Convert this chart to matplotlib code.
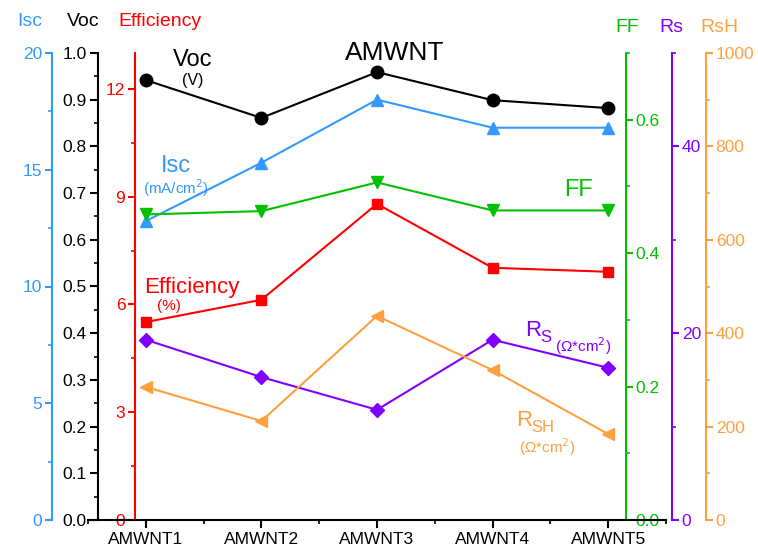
import matplotlib
matplotlib.use("Agg")
import matplotlib.pyplot as plt
from matplotlib.ticker import MultipleLocator

plt.rcParams['font.family'] = ['Liberation Sans', 'DejaVu Sans']

samples = ["AMWNT1", "AMWNT2", "AMWNT3", "AMWNT4", "AMWNT5"]
voc = [0.942, 0.861, 0.959, 0.899, 0.882]
isc = [12.8, 15.3, 18.0, 16.8, 16.8]
eff = [5.51, 6.13, 8.80, 7.02, 6.91]
ff = [0.458, 0.463, 0.506, 0.464, 0.464]
rs = [19.3, 15.3, 11.8, 19.3, 16.3]
rsh = [285, 212, 437, 321, 184]

blue = "#3399ff"
red = "#ff0000"
green = "#00c000"
purple = "#8000ff"
orange = "#ffa040"

W, H = 758, 549
fig = plt.figure(figsize=(W / 100, H / 100), dpi=100)
ax = fig.add_axes([88 / W, 1 - 520 / H, 578 / W, 467 / H])
x = list(range(len(samples)))
TS = 12.5


def px(xp):
    return (xp - 88) / 578.0


def spine_axis(color, lim, major, minor, pos, side):
    a = ax.twinx()
    for s in a.spines.values():
        s.set_visible(False)
    a.spines[side].set_visible(True)
    a.spines[side].set_position(("axes", pos))
    a.spines[side].set_color(color)
    a.spines[side].set_linewidth(1.5)
    a.yaxis.set_ticks_position(side)
    a.yaxis.set_label_position(side)
    a.set_ylim(*lim)
    a.yaxis.set_major_locator(MultipleLocator(major))
    a.yaxis.set_minor_locator(MultipleLocator(minor))
    a.tick_params(axis="y", which="major", colors=color, length=5, width=1.5,
                  labelsize=TS, pad=2)
    a.tick_params(axis="y", which="minor", colors=color, length=3, width=1.2)
    return a


# main axis: Voc
for s in ["top", "right"]:
    ax.spines[s].set_visible(False)
ax.spines["left"].set_position(("axes", px(98)))
ax.spines["left"].set_bounds(0, 1.0)
ax.spines["left"].set_linewidth(1.5)
ax.spines["bottom"].set_linewidth(1.5)
ax.set_xlim(-0.5, 4.5)
ax.set_ylim(0, 1.0)
ax.yaxis.set_major_locator(MultipleLocator(0.1))
ax.yaxis.set_minor_locator(MultipleLocator(0.05))
ax.set_yticklabels([f"{v:.1f}" for v in ax.get_yticks()])
ax.tick_params(axis="y", which="major", length=6, width=1.5, labelsize=TS, pad=2)
ax.tick_params(axis="y", which="minor", length=3, width=1.2)
ax.set_xticks(x)
ax.set_xticklabels(samples)
ax.set_xticks([i + 0.5 for i in range(-1, 5)], minor=True)
ax.tick_params(axis="x", which="major", length=6, width=1.5, labelsize=12.5, pad=3)
ax.tick_params(axis="x", which="minor", length=3, width=1.2)

ax_eff = spine_axis(red, (0, 13), 3, 1.5, px(135), "left")
ax_isc = spine_axis(blue, (0, 20), 5, 2.5, px(52), "left")
ax_ff = spine_axis(green, (0, 0.7), 0.2, 0.1, px(626), "right")
ax_ff.set_yticklabels([f"{v:.1f}" for v in ax_ff.get_yticks()])
ax_rs = spine_axis(purple, (0, 50), 20, 10, px(672), "right")
ax_rsh = spine_axis(orange, (0, 1000), 200, 100, px(706), "right")
ax_ff.spines["right"].set_bounds(0, 0.7)

ax.plot(x, voc, "-o", color="black", lw=1.5, ms=9, zorder=5)
ax_isc.plot(x, isc, "-^", color=blue, lw=1.5, ms=9)
ax_ff.plot(x, ff, "-v", color=green, lw=1.5, ms=9)
ax_eff.plot(x, eff, "-s", color=red, lw=1.5, ms=7.5)
ax_rs.plot(x, rs, "-D", color=purple, lw=1.5, ms=7.5)
ax_rsh.plot(x, rsh, "-<", color=orange, lw=1.5, ms=9)

ax.set_zorder(ax_rsh.get_zorder() + 1)
ax.patch.set_visible(False)


def ftext(xp, yp, s, color, size, **kw):
    fig.text(xp / W, 1 - yp / H, s, color=color, fontsize=size,
             ha="center", va="center", **kw)


# axis titles on top
ftext(30, 22, "Isc", blue, 14)
ftext(83, 22, "Voc", "black", 14)
ftext(160, 22, "Efficiency", red, 14)
ftext(627, 28, "FF", green, 14)
ftext(671, 28, "Rs", purple, 14)
ftext(719, 28, "RsH", orange, 14)

# in-plot labels
ftext(395, 53, "AMWNT", "black", 19)
ftext(193, 60, "Voc", "black", 17)
ftext(193, 80, "(V)", "black", 11.5)
ftext(176, 166, "Isc", blue, 17)
ftext(176, 188, "(mA/cm$^2$)", blue, 11)
ftext(579, 190, "FF", green, 17)
ftext(192, 288, "Efficiency", red, 16)
ftext(169, 306, "(%)", red, 11)
ftext(533, 330, "R", purple, 16)
ftext(546, 337, "S", purple, 12)
ftext(583, 346, "(\u03a9*cm$^2$)", purple, 11)
ftext(524, 421, "R", orange, 16)
ftext(543, 427, "SH", orange, 12)
ftext(547, 447, "(\u03a9*cm$^2$)", orange, 11)

fig.savefig("out.png", dpi=100)
